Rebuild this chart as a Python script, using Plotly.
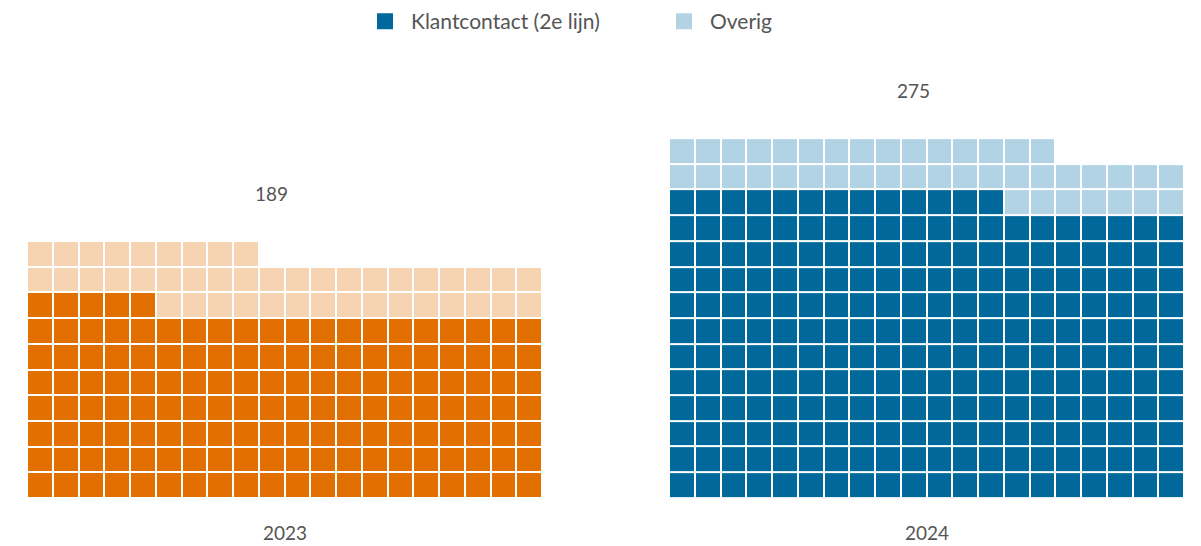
import plotly.graph_objects as go

# ---- data ----
years = ["2023", "2024"]
klantcontact = [145, 233]   # Klantcontact (2e lijn)
overig = [44, 42]           # Overig
totals = [189, 275]
series_names = ["Klantcontact (2e lijn)", "Overig"]
legend_colors = ["#01689B", "#B2D3E4"]
year_colors = [("#E17000", "#F6D4B1"), ("#01689B", "#B2D3E4")]

COLS = 20
W, H = 1201, 546
FONT = "Lato"
TXT = "#555555"

fig = go.Figure()

def grid(dark, light):
    total = dark + light
    rows = -(-total // COLS)
    z = [[None] * COLS for _ in range(rows)]
    for i in range(total):
        r, c = divmod(i, COLS)
        z[r][c] = 0 if i < dark else 1
    return z

domains = [[27 / W, 542 / W], [669 / W, 1184 / W]]
for k, yr in enumerate(years):
    z = grid(klantcontact[k], overig[k])
    dark, light = year_colors[k]
    xa = "x" if k == 0 else "x2"
    fig.add_trace(go.Heatmap(
        z=z, x=list(range(COLS)), y=list(range(len(z))),
        colorscale=[[0, dark], [1, light]], zmin=0, zmax=1,
        xgap=2, ygap=2, showscale=False, hoverinfo="skip",
        xaxis=xa, yaxis="y", showlegend=False))
    fig.add_annotation(x=9, y=len(z) - 0.5 + 1.85, xref=xa, yref="y",
                       text=str(totals[k]), showarrow=False,
                       font=dict(family=FONT, size=19, color=TXT))
    fig.add_annotation(x=(domains[k][0] + domains[k][1]) / 2, y=-34 / 437,
                       xref="paper", yref="paper", xanchor="center", yanchor="middle",
                       text=yr, showarrow=False,
                       font=dict(family=FONT, size=19, color=TXT))

for name, col in zip(series_names, legend_colors):
    fig.add_trace(go.Scatter(x=[None], y=[None], mode="markers", name=name,
                             marker=dict(symbol="square", size=16, color=col),
                             xaxis="x", yaxis="y"))

axis_common = dict(showgrid=False, zeroline=False, showticklabels=False,
                   ticks="", showline=False, fixedrange=True)
fig.update_layout(
    width=W, height=H,
    margin=dict(l=0, r=0, t=61, b=48),
    paper_bgcolor="white", plot_bgcolor="white",
    xaxis=dict(domain=domains[0], range=[-0.5, COLS - 0.5], **axis_common),
    xaxis2=dict(domain=domains[1], range=[-0.5, COLS - 0.5], anchor="y", **axis_common),
    yaxis=dict(domain=[0, 1], range=[-0.5, 16.5], **axis_common),
    legend=dict(orientation="h", x=359 / W, xanchor="left", y=0.998, yanchor="top",
                yref="container", font=dict(family=FONT, size=21, color=TXT),
                entrywidth=242, itemwidth=42, bgcolor="rgba(0,0,0,0)"),
    showlegend=True,
)

fig.write_html("out.html", config={"displayModeBar": False},
               post_script="document.body.style.margin='0';")
